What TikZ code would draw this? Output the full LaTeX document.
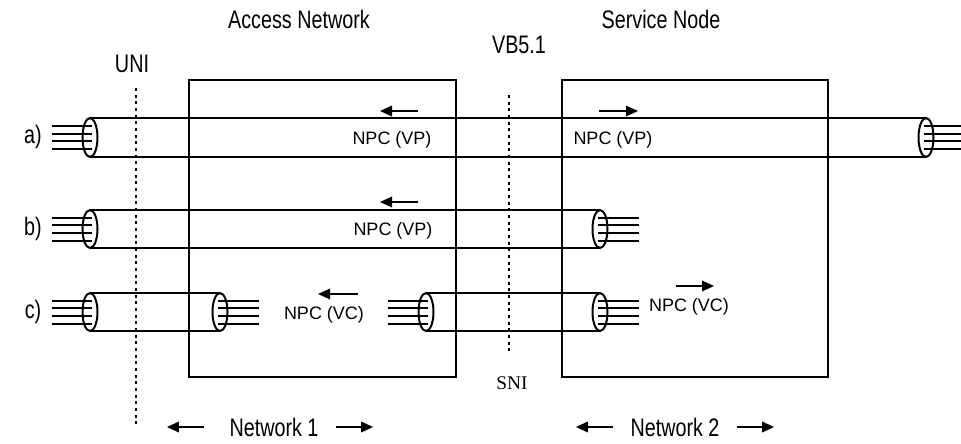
\documentclass[tikz,border=0pt]{standalone}
\usepackage{fontspec}
\setmainfont{Liberation Sans}
\newfontfamily\headfont[FakeStretch=0.78]{Liberation Sans}
\newfontfamily\snifont{Liberation Serif}
\usetikzlibrary{arrows.meta,positioning,calc}
\tikzset{
 frame/.style={draw,line width=1.5pt,inner sep=0pt},
 body/.style={line width=1.5pt},
 wire/.style={line width=1.5pt},
 iface/.style={line width=1.5pt,dash pattern=on 2.2pt off 2.8pt},
 npc/.style={font=\fontsize{13.5}{15}\selectfont,inner sep=0pt},
 head/.style={font=\headfont\fontsize{19}{21}\selectfont,inner sep=0pt},
 dir/.style={-{Triangle[length=9pt,width=8pt]},line width=1pt}
}
\begin{document}
\begin{tikzpicture}[x=0.75pt,y=-0.75pt]
\useasboundingbox (0,0) rectangle (961,443);
% network boxes
\node[frame,minimum width=267*0.75pt,minimum height=297*0.75pt] (an) at (322.5,228.5) {};
\node[frame,minimum width=266*0.75pt,minimum height=297*0.75pt] (sn) at (695,228.5) {};
\node[head] (antitle) at (299,19) {Access Network};
\node[head] (sntitle) at (661,19) {Service Node};
% interfaces
\node[head] (uni) at (132,64) {UNI};
\node[head] (vb) at (519,45) {VB5.1};
\node[font=\snifont\fontsize{14.5}{16}\selectfont,inner sep=0pt] (sni) at (512,383) {SNI};
\draw[iface] (136,88) -- (136,426);
\draw[iface] (509,95) -- (509,352);
% cables: name/left/right/y/radius
\foreach \n/\l/\r/\y/\h in {a/90/926/137.5/19.5,b/90/600/229/19,c1/90/220/312/19,c2/426/600/312/19}{
 \coordinate (\n L) at (\l,\y);
 \coordinate (\n R) at (\r,\y);
 \draw[body] ($(\n L)+(0,-\h)$) -- ($(\n R)+(0,-\h)$) ($(\n L)+(0,\h)$) -- ($(\n R)+(0,\h)$);
 \foreach \d in {-11.5,-3.8,3.8,11.5}{
  \draw[wire] ($(\n L)+(-38,\d)$) -- ($(\n L)+(2,\d)$);
  \draw[wire] ($(\n R)+(-2,\d)$) -- ($(\n R)+(39,\d)$);
 }
 \draw[body] (\n L) ellipse [x radius=7.5,y radius=\h];
 \draw[body] (\n R) ellipse [x radius=7.5,y radius=\h];
}
\node[head] (ra) at (33,137) {a)};
\node[head] (rb) at (33,229) {b)};
\node[head] (rc) at (33,312) {c)};
% connection labels
\node[npc] (npca1) at (392,140) {NPC (VP)};
\node[npc] (npca2) at (613,140) {NPC (VP)};
\node[npc] (npcb) at (393,231) {NPC (VP)};
\node[npc] (npcc1) at (324,315) {NPC (VC)};
\node[npc] (npcc2) at (689,307) {NPC (VC)};
\draw[dir] (418,111) -- (380,111);
\draw[dir] (599,111) -- (638,111);
\draw[dir] (418,202) -- (380,202);
\draw[dir] (358,294) -- (318,294);
\draw[dir] (676,286) -- (714,286);
% network extents
\node[head] (net1) at (274,427) {Network 1};
\node[head] (net2) at (675,427) {Network 2};
\draw[dir] ([xshift=-19pt]net1.west) -- ++(-37,0);
\draw[dir] ([xshift=13pt]net1.east) -- ++(37,0);
\draw[dir] ([xshift=-13pt]net2.west) -- ++(-37,0);
\draw[dir] ([xshift=13pt]net2.east) -- ++(37,0);
\end{tikzpicture}
\end{document}
